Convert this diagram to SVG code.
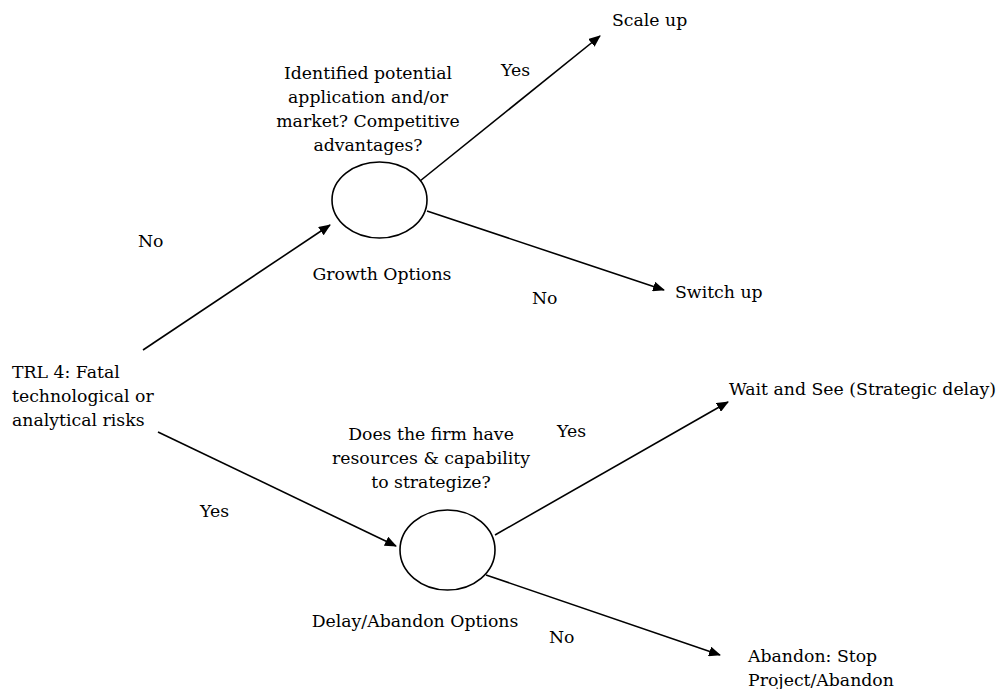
<svg xmlns="http://www.w3.org/2000/svg" width="1001" height="689" viewBox="0 0 1001 689">
  <style>
    text { font-family: "DejaVu Serif", "Liberation Serif", serif; font-size: 17.3px; fill: #000; }
    .mid { text-anchor: middle; }
    .edge { stroke: #000; stroke-width: 1.6; fill: none; }
    .node { stroke: #000; stroke-width: 1.6; fill: #fff; }
  </style>
  <defs>
    <marker id="arrow" viewBox="0 0 12 10" refX="11" refY="5" markerWidth="12" markerHeight="10" markerUnits="userSpaceOnUse" orient="auto">
      <path d="M0,0 L12,5 L0,10 Z" fill="#000"/>
    </marker>
  </defs>
  <rect width="1001" height="689" fill="#fff"/>

  <!-- connectors -->
  <g id="connectors">
    <line class="edge" x1="143" y1="350" x2="330" y2="225" marker-end="url(#arrow)"/>
    <line class="edge" x1="158" y1="432" x2="396" y2="546" marker-end="url(#arrow)"/>
    <line class="edge" x1="420" y1="181" x2="600" y2="36" marker-end="url(#arrow)"/>
    <line class="edge" x1="427" y1="211" x2="664" y2="290" marker-end="url(#arrow)"/>
    <line class="edge" x1="495" y1="535" x2="728" y2="402" marker-end="url(#arrow)"/>
    <line class="edge" x1="486" y1="575" x2="720" y2="655" marker-end="url(#arrow)"/>
  </g>

  <!-- edge labels -->
  <g id="edge-labels">
    <text x="138" y="247">No</text>
    <text x="200" y="517">Yes</text>
    <text x="501" y="76">Yes</text>
    <text x="532" y="304">No</text>
    <text x="557" y="437">Yes</text>
    <text x="549" y="643">No</text>
  </g>

  <g id="start">
    <text x="12" y="378">TRL 4: Fatal</text>
    <text x="12" y="402">technological or</text>
    <text x="12" y="426">analytical risks</text>
  </g>

  <g id="growth">
    <text class="mid" x="368" y="79">Identified potential</text>
    <text class="mid" x="368" y="103">application and/or</text>
    <text class="mid" x="368" y="127">market? Competitive</text>
    <text class="mid" x="368" y="151">advantages?</text>
    <ellipse class="node" cx="379.5" cy="200" rx="47.5" ry="38"/>
    <text class="mid" x="382" y="280">Growth Options</text>
  </g>

  <g id="delay">
    <text class="mid" x="431" y="440">Does the firm have</text>
    <text class="mid" x="431" y="464">resources &amp; capability</text>
    <text class="mid" x="431" y="488">to strategize?</text>
    <ellipse class="node" cx="447.5" cy="550" rx="47.5" ry="40"/>
    <text class="mid" x="415" y="627">Delay/Abandon Options</text>
  </g>

  <g id="scale-up"><text x="612" y="26">Scale up</text></g>
  <g id="switch-up"><text x="675" y="298">Switch up</text></g>
  <g id="wait-see"><text x="729" y="395">Wait and See (Strategic delay)</text></g>
  <g id="abandon">
    <text x="748" y="662">Abandon: Stop</text>
    <text x="748" y="686">Project/Abandon</text>
  </g>
</svg>
